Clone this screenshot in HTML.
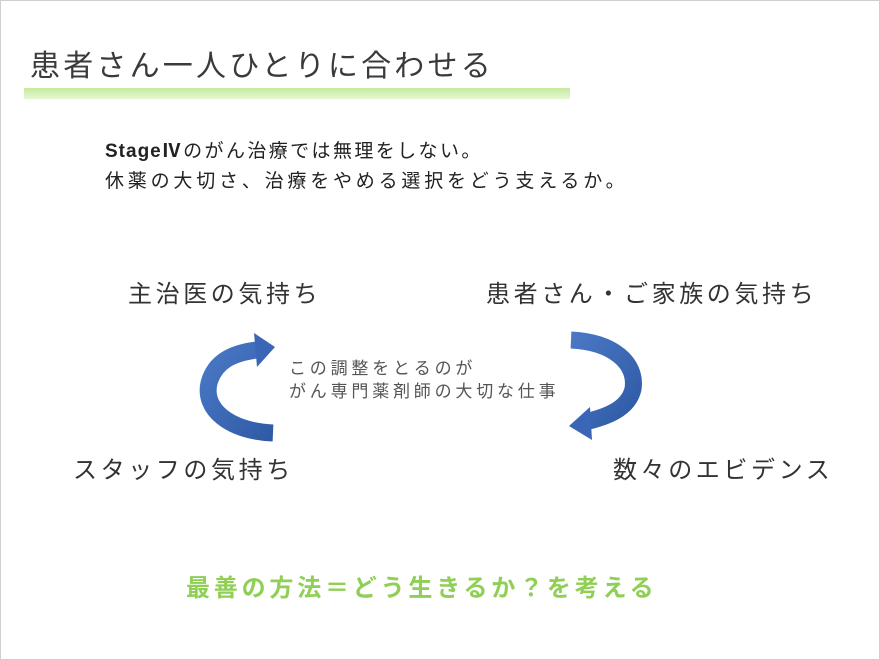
<!DOCTYPE html>
<html><head><meta charset="utf-8"><style>
body{margin:0;background:#fff}
.p{position:relative;width:878px;height:658px;border:1px solid #d0d0d0;overflow:hidden;font-family:"Liberation Sans","Noto Sans CJK JP",sans-serif;color:#333}
.t{position:absolute;white-space:nowrap}
.l{font-size:24px;letter-spacing:3.6px}
</style></head><body><div class="p">
<div class="t" style="left:29px;top:40px;font-size:30px;letter-spacing:3.2px;color:#3a3a3a">患者さん一人ひとりに合わせる</div>
<div style="position:absolute;left:23px;top:87px;width:546px;height:11px;background:linear-gradient(#c6eb9e,#e6f7d4)"></div>
<div class="t" style="left:104px;top:135px;font-size:19px;letter-spacing:2.4px;color:#222"><b style="letter-spacing:1px">Stage</b><b>Ⅳ</b>のがん治療では無理をしない。</div>
<div class="t" style="left:104px;top:165px;font-size:19px;letter-spacing:3.8px;color:#222">休薬の大切さ、治療をやめる選択をどう支えるか。</div>
<div class="t l" style="left:127px;top:273px">主治医の気持ち</div>
<div class="t l" style="left:485px;top:273px">患者さん・ご家族の気持ち</div>
<div class="t l" style="left:72px;top:449px">スタッフの気持ち</div>
<div class="t l" style="left:612px;top:449px">数々のエビデンス</div>
<div class="t" style="left:288px;top:356px;font-size:17px;letter-spacing:3.8px;line-height:23px;color:#555">この調整をとるのが<br>がん専門薬剤師の大切な仕事</div>
<div class="t" style="left:185px;top:567px;font-size:24px;letter-spacing:3.8px;font-weight:bold;color:#8fcf55">最善の方法＝どう生きるか？を考える</div>
<svg width="880" height="660" style="position:absolute;left:0;top:0">
<defs><linearGradient id="g" x1="0" y1="0" x2="1" y2="1"><stop offset="0" stop-color="#4a78c4"/><stop offset="1" stop-color="#2f5aa6"/></linearGradient></defs>
<path d="M272,432 C228,430 202,408 208,382 C214,360 232,352 256,349" fill="none" stroke="url(#g)" stroke-width="17"/>
<polygon points="253,332 274,346 256,366" fill="#3a66b5"/>
<path d="M570,339 C612,341 636,362 632,388 C628,405 612,414 588,420" fill="none" stroke="url(#g)" stroke-width="17"/>
<polygon points="589,406 568,425 591,439" fill="#3a66b5"/>
</svg>
</div></body></html>
